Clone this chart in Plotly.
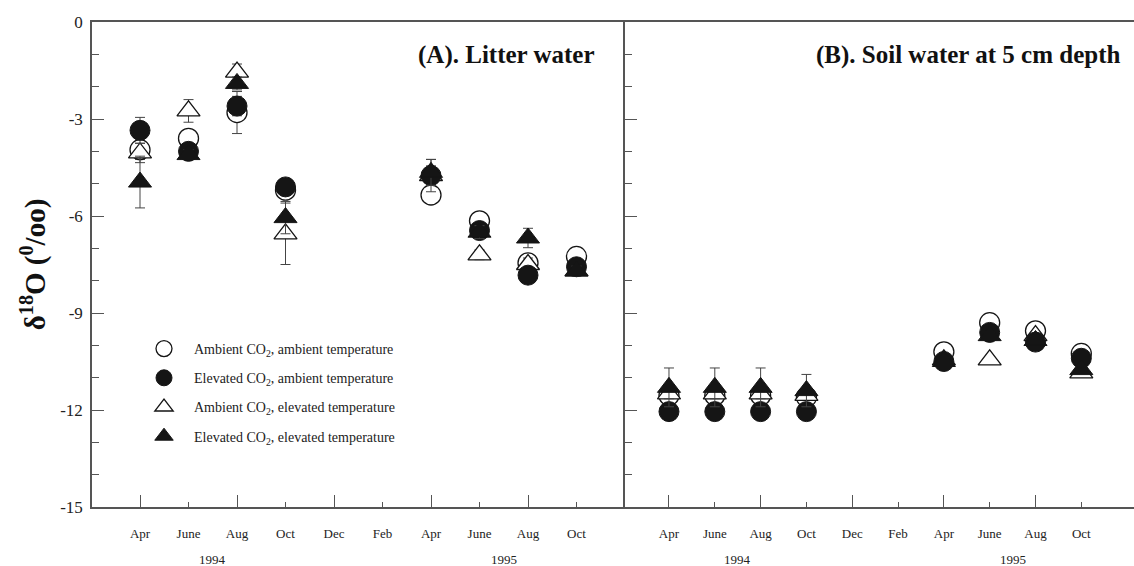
import plotly.graph_objects as go

months = ["Apr", "June", "Aug", "Oct", "Dec", "Feb", "Apr", "June", "Aug", "Oct"]
years = ["1994", "1995"]
y_ticks = [0, -3, -6, -9, -12, -15]
y_ticktext = ["0", "-3", "-6", "-9", "-12", "-15"]
series_names = [
    "Ambient CO<sub>2</sub>, ambient temperature",
    "Elevated CO<sub>2</sub>, ambient temperature",
    "Ambient CO<sub>2</sub>, elevated temperature",
    "Elevated CO<sub>2</sub>, elevated temperature",
]

# (A) Litter water
A_amb_amb = [-3.95, -3.6, -2.8, -5.2, None, None, -5.35, -6.15, -7.45, -7.25]
A_ele_amb = [-3.35, -4.0, -2.6, -5.1, None, None, -4.75, -6.45, -7.83, -7.57]
A_amb_ele = [-4.05, -2.75, -1.55, -6.55, None, None, -4.75, -7.2, -7.5, -7.7]
A_ele_ele = [-4.95, -4.1, -1.9, -6.05, None, None, -4.65, -6.5, -6.68, -7.7]
A_err_amb_amb = [0.3, 0.2, 0.65, 0.2, None, None, 0.2, 0.2, 0.2, 0.2]
A_err_ele_amb = [0.4, 0.2, 0.3, 0.25, None, None, 0.5, 0.15, 0.15, 0.2]
A_err_amb_ele = [0.3, 0.35, 0.25, 0.95, None, None, 0.3, 0.15, 0.2, 0.15]
A_err_ele_ele = [0.8, 0.15, 0.2, 0.5, None, None, 0.4, 0.2, 0.3, 0.15]

# (B) Soil water at 5 cm depth
B_amb_amb = [-11.55, -11.55, -11.55, -11.6, None, None, -10.2, -9.3, -9.55, -10.25]
B_ele_amb = [-12.05, -12.05, -12.05, -12.05, None, None, -10.5, -9.6, -9.9, -10.4]
B_amb_ele = [-11.5, -11.5, -11.5, -11.55, None, None, -10.45, -10.45, -9.7, -10.85]
B_ele_ele = [-11.3, -11.3, -11.3, -11.4, None, None, -10.5, -9.7, -9.85, -10.75]
B_err_amb_amb = [0.15, 0.15, 0.15, 0.15, None, None, 0.1, 0.1, 0.1, 0.1]
B_err_ele_amb = [0.1, 0.1, 0.1, 0.1, None, None, 0.1, 0.1, 0.1, 0.1]
B_err_amb_ele = [0.15, 0.15, 0.15, 0.15, None, None, 0.1, 0.1, 0.1, 0.1]
B_err_ele_ele = [0.6, 0.6, 0.6, 0.5, None, None, 0.1, 0.1, 0.1, 0.1]

x = list(range(len(months)))
SERIF = "Liberation Serif"
BLACK = "#151515"

styles = [
    dict(symbol="circle", color="white", line=dict(color=BLACK, width=1.3)),
    dict(symbol="circle", color=BLACK, line=dict(color=BLACK, width=1)),
    dict(symbol="triangle-up", color="white", line=dict(color=BLACK, width=1.3)),
    dict(symbol="triangle-up", color=BLACK, line=dict(color=BLACK, width=1)),
]
draw_order = [0, 2, 1, 3]

fig = go.Figure()
panels = [
    ("x", "y", [A_amb_amb, A_ele_amb, A_amb_ele, A_ele_ele],
     [A_err_amb_amb, A_err_ele_amb, A_err_amb_ele, A_err_ele_ele], True),
    ("x2", "y2", [B_amb_amb, B_ele_amb, B_amb_ele, B_ele_ele],
     [B_err_amb_amb, B_err_ele_amb, B_err_amb_ele, B_err_ele_ele], False),
]
for xa, ya, vals, errs, show in panels:
    for i in draw_order:
        st = styles[i]
        fig.add_trace(go.Scatter(
            x=x, y=vals[i], mode="markers", xaxis=xa, yaxis=ya,
            name=series_names[i], showlegend=show, legendrank=i + 1,
            legendgroup="g%d" % i,
            marker=dict(symbol=st["symbol"], size=20, color=st["color"], line=st["line"]),
            error_y=dict(type="data", array=errs[i], visible=True,
                         color="#444", thickness=1, width=5),
        ))

split = 533 / 1042
common_x = dict(showline=True, linecolor="#555", linewidth=1.5, mirror=True,
                tickvals=x, ticktext=months, ticks="inside", ticklen=5,
                tickcolor="#555", showgrid=False, zeroline=False,
                ticklabelstandoff=14,
                tickfont=dict(family=SERIF, size=13, color="#222"))
common_y = dict(range=[-15, 0], showline=True, linecolor="#555", linewidth=1.5,
                ticks="inside", ticklen=12, tickcolor="#555",
                tickvals=y_ticks, ticktext=y_ticktext,
                showgrid=False, zeroline=False,
                minor=dict(dtick=1, ticklen=7, ticks="inside", tickcolor="#555"))

fig.update_layout(
    width=1134, height=566,
    margin=dict(l=92, r=0, t=22, b=59),
    paper_bgcolor="white", plot_bgcolor="white",
    xaxis=dict(domain=[0, split], range=[-0.99, 10.0], anchor="y", **common_x),
    xaxis2=dict(domain=[split, 1], range=[-0.96, 10.15], anchor="y2", **common_x),
    xaxis3=dict(domain=[0, split], range=[-0.99, 10.0], overlaying="x", anchor="y",
                tickvals=x[0::2], ticks="inside", ticklen=12, tickcolor="#555",
                showticklabels=False, showgrid=False, zeroline=False, showline=False),
    xaxis4=dict(domain=[split, 1], range=[-0.96, 10.15], overlaying="x2", anchor="y2",
                tickvals=x[0::2], ticks="inside", ticklen=12, tickcolor="#555",
                showticklabels=False, showgrid=False, zeroline=False, showline=False),
    yaxis=dict(anchor="x", tickfont=dict(family=SERIF, size=17, color="#222"),
               ticklabelstandoff=4,
               title=dict(text="<b>δ<sup>18</sup>O (<sup>0</sup>/oo)</b>",
                          font=dict(family=SERIF, size=29, color="#111"), standoff=6),
               **common_y),
    yaxis2=dict(anchor="x2", showticklabels=False, **common_y),
    legend=dict(x=(134 - 92) / 1042, y=(507 - 333) / 485, xanchor="left", yanchor="top",
                font=dict(family=SERIF, size=14, color="#222"),
                bgcolor="rgba(0,0,0,0)", tracegroupgap=8, itemwidth=50,
                traceorder="grouped"),
    showlegend=True,
)

# dummy traces so the overlay tick axes are drawn
fig.add_trace(go.Scatter(x=[None], y=[None], xaxis="x3", yaxis="y", showlegend=False, hoverinfo="skip"))
fig.add_trace(go.Scatter(x=[None], y=[None], xaxis="x4", yaxis="y2", showlegend=False, hoverinfo="skip"))

titles = ["<b>(A). Litter water</b>", "<b>(B). Soil water at 5 cm depth</b>"]
for xr, t, xpos in zip(["x domain", "x2 domain"], titles, [0.947, 0.976]):
    fig.add_annotation(text=t, xref=xr, yref="y domain", x=xpos, y=0.932,
                       xanchor="right", yanchor="middle", showarrow=False,
                       font=dict(family=SERIF, size=25, color="#111"))

mid1 = (months.index("June") + months.index("Aug")) / 2
mid2 = mid1 + 6
for xr in ["x", "x2"]:
    for yr, xm in zip(years, [mid1, mid2]):
        fig.add_annotation(text=yr, xref=xr, yref="paper", x=xm, y=0, yshift=-52,
                           xanchor="center", yanchor="middle", showarrow=False,
                           font=dict(family=SERIF, size=13, color="#222"))

fig.write_html("out.html")
